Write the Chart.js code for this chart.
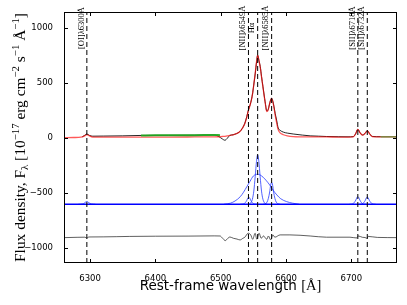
<!DOCTYPE html>
<html><head><meta charset="utf-8">
<script src="https://cdn.jsdelivr.net/npm/chart.js@4.4.0/dist/chart.umd.min.js"></script>
<style>html,body{margin:0;padding:0;background:#fff;}canvas{display:block;}</style>
</head><body>
<canvas id="c" width="407" height="305"></canvas>
<script>
// axis limits and ticks
const X_MIN = 6260, X_MAX = 6770, Y_MIN = -1140, Y_MAX = 1146;
const X_TICKS = [6300, 6400, 6500, 6600, 6700];
const Y_TICKS = [-1000, -500, 0, 500, 1000];

// observed spectrum (black)
const DATA_WAVE = [6288, 6291, 6295, 6299, 6304, 6320, 6350, 6380, 6420, 6460, 6490, 6497, 6502, 6506.5, 6510, 6514, 6519, 6524, 6529, 6533, 6537, 6540, 6542.5, 6545, 6547, 6549, 6551, 6553, 6555, 6556.6, 6558.5, 6560.6, 6562.5, 6564.7, 6566.5, 6568, 6570.6, 6572.5, 6574.5, 6576.5, 6578, 6580, 6581.6, 6583.5, 6585.6, 6588, 6591, 6596, 6602, 6611, 6625, 6637, 6650, 6662, 6680, 6695, 6703, 6706.5, 6710, 6713.5, 6717.3, 6721, 6724.5, 6728, 6732, 6745];
const DATA_FLUX = [10, 20, 35, 22, 15, 16, 18, 22, 23, 24, 26, 12, -8, -22, -5, 22, 28, 38, 55, 85, 134, 195, 255, 300, 345, 410, 500, 590, 694, 754, 705, 648, 560, 466, 390, 329, 245, 255, 300, 345, 360, 330, 284, 220, 162, 90, 68, 52, 43, 35, 25, 18, 15, 12, 10, 9, 11, 35, 78, 45, 26, 40, 65, 38, 13, 10];

// model spectrum (red)
const MODEL_WAVE = [6260, 6275, 6286, 6291, 6295, 6299, 6304, 6320, 6350, 6380, 6420, 6460, 6490, 6497, 6502, 6506.5, 6510, 6514, 6519, 6524, 6529, 6533, 6537, 6540, 6542.5, 6545, 6547, 6549, 6551, 6553, 6555, 6556.6, 6558.5, 6560.6, 6562.5, 6564.7, 6566.5, 6568, 6570.6, 6572.5, 6574.5, 6576.5, 6578, 6580, 6581.6, 6583.5, 6585.6, 6588, 6591, 6596, 6602, 6611, 6625, 6637, 6650, 6662, 6680, 6695, 6703, 6706.5, 6710, 6713.5, 6717.3, 6721, 6724.5, 6728, 6732, 6740, 6755, 6770];
const MODEL_FLUX = [2, 3, 6, 16, 30, 17, 7, 6, 6, 7, 7, 8, 9, 10, 12, 14, 17, 22, 28, 38, 55, 85, 130, 190, 250, 298, 345, 410, 500, 595, 700, 750, 705, 640, 555, 462, 385, 325, 240, 250, 300, 345, 358, 325, 275, 205, 140, 75, 45, 28, 18, 11, 9, 8, 8, 8, 7, 7, 8, 35, 76, 45, 24, 40, 63, 36, 12, 8, 8, 8];

// continuum windows (green)
const GREEN1_WAVE = [6378, 6400, 6430, 6460, 6490, 6499];
const GREEN1_FLUX = [22, 23, 24, 24, 26, 24];
const GREEN2_WAVE = [6745, 6755, 6770];
const GREEN2_FLUX = [9, 9, 9];

// fitted components (blue), flux above the offset baseline
const COMP_BASE = -605;
const BROAD_WAVE = [6505, 6515, 6522, 6530, 6535, 6540, 6545, 6550, 6556.6, 6560, 6565, 6570, 6575, 6580, 6586, 6592, 6601, 6610, 6620];
const BROAD_FLUX = [0, 10, 30, 69, 110, 160, 210, 257, 273, 268, 246, 214, 176, 130, 85, 50, 24, 10, 0];
const NHA_WAVE = [6542, 6545.5, 6548.5, 6550.7, 6552.8, 6554.8, 6556.6, 6558.4, 6560.4, 6562.5, 6564.7, 6567.7, 6571.2];
const NHA_FLUX = [0, 9, 45, 120, 250, 390, 450, 390, 250, 120, 45, 9, 0];
const N2A_WAVE = [6530, 6533, 6536, 6538, 6540, 6541.5, 6543, 6544.5, 6546, 6548, 6550, 6553, 6556];
const N2A_FLUX = [0, 1, 6, 17, 36, 56, 64, 56, 36, 17, 6, 1, 0];
const N2B_WAVE = [6565, 6568, 6571, 6573, 6575, 6576.5, 6578, 6579.5, 6581, 6583, 6585, 6588, 6591];
const N2B_FLUX = [0, 4, 20, 54, 112, 174, 200, 174, 112, 54, 20, 4, 0];
const S2A_WAVE = [6697, 6700, 6703, 6705, 6707, 6708.5, 6710, 6711.5, 6713, 6715, 6717, 6720, 6723];
const S2A_FLUX = [0, 1, 7, 19, 39, 60, 69, 60, 39, 19, 7, 1, 0];
const S2B_WAVE = [6711.5, 6714.5, 6717.5, 6719.5, 6721.5, 6723, 6724.5, 6726, 6727.5, 6729.5, 6731.5, 6734.5, 6737.5];
const S2B_FLUX = [0, 1, 7, 18, 37, 57, 66, 57, 37, 18, 7, 1, 0];
const O1_WAVE = [6282, 6285, 6288, 6290, 6292, 6293.5, 6295, 6296.5, 6298, 6300, 6302, 6305, 6308];
const O1_FLUX = [0, 0.5, 2.5, 7, 14, 22, 25, 22, 14, 7, 2.5, 0.5, 0];

// residuals (offset)
const RES_WAVE = [6260, 6280, 6292, 6295, 6298, 6320, 6360, 6400, 6450, 6490, 6499, 6503, 6507, 6511, 6514, 6519.5, 6525, 6529.6, 6534, 6537, 6542, 6546, 6549, 6552.7, 6555.3, 6558.8, 6562, 6565.5, 6570.6, 6573, 6576.6, 6579.7, 6583, 6591, 6606, 6637, 6662, 6698, 6708, 6711, 6717, 6721, 6724, 6726, 6740, 6770];
const RES_FLUX = [-909, -906, -905, -913, -903, -902, -898, -896, -895, -893, -894, -915, -936, -915, -903, -915, -922, -930, -915, -905, -869, -884, -924, -869, -924, -869, -915, -894, -924, -894, -930, -884, -905, -884, -884, -894, -905, -905, -912, -894, -906, -908, -915, -898, -907, -909];

// emission line markers
const LINE_WAVE = [6295, 6542.5, 6556.6, 6578, 6710, 6724.5];
const LINE_LABEL = ['[OI]\u03bb6300\u00c5', '[NII]\u03bb6549\u00c5', 'H\u03b1', '[NII]\u03bb6585\u00c5', '[SII]\u03bb6718\u00c5', '[SII]\u03bb6732\u00c5'];
const LABEL_Y = 1000;

const pts = (xs, ys, off) => xs.map((v, i) => ({x: v, y: ys[i] + (off || 0)}));
const ln = (data, color, width, order, extra) => Object.assign({data, borderColor: color, borderWidth: width, showLine: true, pointRadius: 0, order, cubicInterpolationMode: 'monotone', fill: false}, extra || {});

const datasets = [];
LINE_WAVE.forEach(w => datasets.push(ln([{x: w, y: Y_MIN}, {x: w, y: Y_MAX}], '#000', 1, 0, {borderDash: [5, 3], cubicInterpolationMode: 'default'})));
datasets.push(ln(pts(GREEN1_WAVE, GREEN1_FLUX), 'rgba(30,170,30,0.9)', 2, 1));
datasets.push(ln(pts(GREEN2_WAVE, GREEN2_FLUX), 'rgba(0,128,0,0.55)', 1.5, 1));
datasets.push(ln(pts(MODEL_WAVE, MODEL_FLUX), 'rgba(255,0,0,0.65)', 1.3, 2));
datasets.push(ln(pts(DATA_WAVE, DATA_FLUX), 'rgba(0,0,0,0.85)', 1, 3));
datasets.push(ln([{x: X_MIN, y: COMP_BASE}, {x: X_MAX, y: COMP_BASE}], '#0000ff', 1.5, 4));
[[BROAD_WAVE, BROAD_FLUX], [NHA_WAVE, NHA_FLUX], [N2A_WAVE, N2A_FLUX], [N2B_WAVE, N2B_FLUX], [S2A_WAVE, S2A_FLUX], [S2B_WAVE, S2B_FLUX], [O1_WAVE, O1_FLUX]]
  .forEach(([w, f]) => datasets.push(ln(pts(w, f, COMP_BASE), 'rgba(40,60,255,0.8)', 1, 5)));
datasets.push(ln(pts(RES_WAVE, RES_FLUX), 'rgba(0,0,0,0.7)', 0.9, 6));

const decor = {
  id: 'decor',
  afterDraw(chart) {
    const {ctx, chartArea: a, scales: {x, y}} = chart;
    ctx.save();
    ctx.strokeStyle = '#000';
    ctx.lineWidth = 1;
    ctx.strokeRect(a.left + 0.5, a.top + 0.5, a.right - a.left - 1, a.bottom - a.top - 1);
    ctx.beginPath();
    X_TICKS.forEach(v => {
      const p = Math.round(x.getPixelForValue(v)) + 0.5;
      ctx.moveTo(p, a.bottom); ctx.lineTo(p, a.bottom - 4);
      ctx.moveTo(p, a.top); ctx.lineTo(p, a.top + 4);
    });
    Y_TICKS.forEach(v => {
      const p = Math.round(y.getPixelForValue(v)) + 0.5;
      ctx.moveTo(a.left, p); ctx.lineTo(a.left + 4, p);
      ctx.moveTo(a.right, p); ctx.lineTo(a.right - 4, p);
    });
    ctx.stroke();

    // line labels
    ctx.fillStyle = '#000';
    ctx.font = '8.5px "Liberation Serif"';
    ctx.textAlign = 'center';
    ctx.textBaseline = 'middle';
    LINE_WAVE.forEach((w, i) => {
      ctx.save();
      ctx.translate(x.getPixelForValue(w) - 5.5, y.getPixelForValue(LABEL_Y));
      ctx.rotate(-Math.PI / 2);
      ctx.fillText(LINE_LABEL[i], 0, 0);
      ctx.restore();
    });

    // y axis title, scaled to span the reference length
    const segs = [['Flux density, F', 1, 0], ['\u03bb', 0.7, 0.22], [' [10', 1, 0], ['\u221217', 0.7, -0.4], [' erg cm', 1, 0], ['\u22122', 0.7, -0.4], [' s', 1, 0], ['\u22121', 0.7, -0.4], [' \u00c5', 1, 0], ['\u22121', 0.7, -0.4], [']', 1, 0]];
    const measure = fs => segs.reduce((t, s) => { ctx.font = (fs * s[1]) + 'px "Liberation Serif"'; return t + ctx.measureText(s[0]).width; }, 0);
    const fs = 12 * 249 / measure(12);
    const total = measure(fs);
    ctx.save();
    ctx.translate(25, 137.5);
    ctx.rotate(-Math.PI / 2);
    ctx.textAlign = 'left';
    ctx.textBaseline = 'alphabetic';
    let px = -total / 2;
    segs.forEach(s => { ctx.font = (fs * s[1]) + 'px "Liberation Serif"'; ctx.fillText(s[0], px, s[2] * fs); px += ctx.measureText(s[0]).width; });
    ctx.restore();

    // x axis title
    const t1 = 'Rest-frame wavelength ', t2 = '[\u00c5]';
    ctx.font = '13.5px "DejaVu Sans"';
    const w1 = ctx.measureText(t1).width;
    ctx.font = '14.5px "Liberation Serif"';
    const w2 = ctx.measureText(t2).width;
    const sx = 230.5 - (w1 + w2) / 2;
    ctx.textAlign = 'left';
    ctx.textBaseline = 'alphabetic';
    ctx.font = '13.5px "DejaVu Sans"';
    ctx.fillText(t1, sx, 289.5);
    ctx.font = '14.5px "Liberation Serif"';
    ctx.fillText(t2, sx + w1, 289.5);
    ctx.restore();
  }
};

new Chart(document.getElementById('c'), {
  type: 'scatter',
  data: {datasets},
  options: {
    responsive: false, animation: false, devicePixelRatio: 1,
    layout: {padding: {top: 12, right: 10, left: 0, bottom: 0}},
    plugins: {legend: {display: false}, tooltip: {enabled: false}},
    scales: {
      x: {
        type: 'linear', min: X_MIN, max: X_MAX,
        afterBuildTicks: s => { s.ticks = X_TICKS.map(v => ({value: v})); },
        afterFit: s => { s.height = 42; },
        grid: {display: false}, border: {display: false},
        ticks: {font: {family: 'DejaVu Sans', size: 8.5}, color: '#000', padding: 3, maxRotation: 0, autoSkip: false,
          callback: v => String(v)}
      },
      y: {
        type: 'linear', min: Y_MIN, max: Y_MAX,
        afterBuildTicks: s => { s.ticks = Y_TICKS.map(v => ({value: v})); },
        afterFit: s => { s.width = 64; },
        grid: {display: false}, border: {display: false},
        ticks: {font: {family: 'DejaVu Sans', size: 8.5}, color: '#000', padding: 3, autoSkip: false,
          callback: v => String(v).replace('-', '\u2212')}
      }
    }
  },
  plugins: [decor]
});
</script>
</body></html>
